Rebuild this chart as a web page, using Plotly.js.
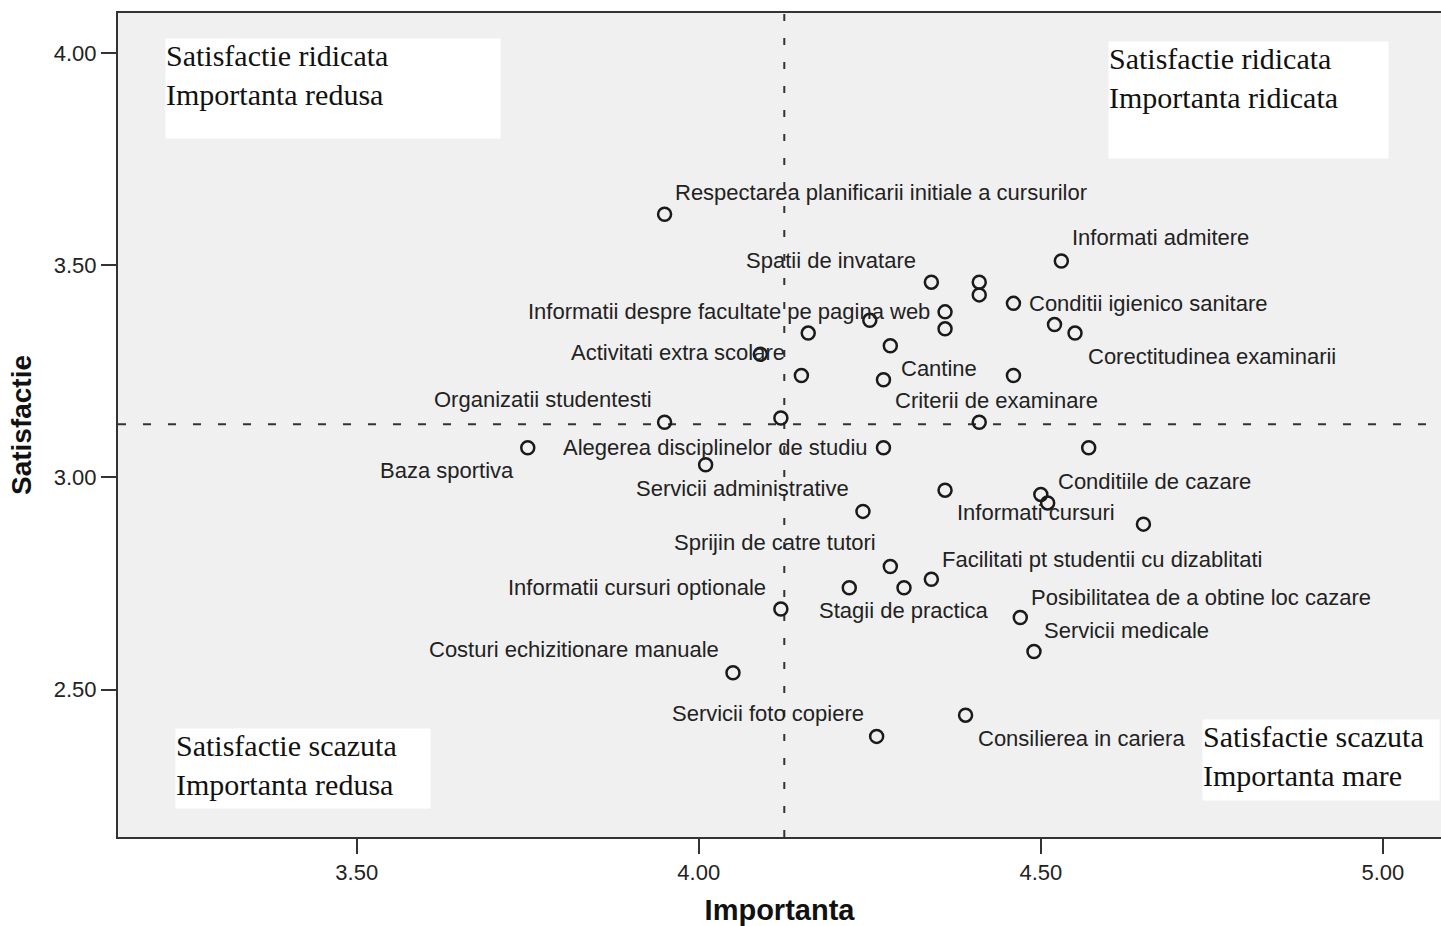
<!DOCTYPE html>
<html>
<head>
<meta charset="utf-8">
<script src="https://cdn.plot.ly/plotly-3.0.1.min.js"></script>
<style>
  html, body { margin: 0; padding: 0; background: #ffffff; }
  #chart { width: 1441px; height: 926px; }
</style>
</head>
<body>
<div id="chart"></div>
<script>
// ---- Data ----
const importance = [3.95, 4.53, 4.34, 4.41, 4.41, 4.36, 4.46, 4.25, 4.36, 4.16,
                    4.28, 4.09, 4.15, 4.27, 4.46, 4.52, 4.55, 3.95, 4.12, 4.41,
                    3.75, 4.27, 4.57, 4.01, 4.36, 4.50, 4.51, 4.65, 4.24, 4.28,
                    4.34, 4.22, 4.30, 4.12, 4.47, 4.49, 4.05, 4.39, 4.26];
const satisfaction = [3.62, 3.51, 3.46, 3.46, 3.43, 3.39, 3.41, 3.37, 3.35, 3.34,
                      3.31, 3.29, 3.24, 3.23, 3.24, 3.36, 3.34, 3.13, 3.14, 3.13,
                      3.07, 3.07, 3.07, 3.03, 2.97, 2.96, 2.94, 2.89, 2.92, 2.79,
                      2.76, 2.74, 2.74, 2.69, 2.67, 2.59, 2.54, 2.44, 2.39];
const pointLabels = [
  "Respectarea planificarii initiale a cursurilor", "Informati admitere", "Spatii de invatare", "", "",
  "Informatii despre facultate pe pagina web", "Conditii igienico sanitare", "", "", "",
  "Cantine", "Activitati extra scolare", "", "Criterii de examinare", "",
  "", "Corectitudinea examinarii", "Organizatii studentesti", "", "",
  "Baza sportiva", "Alegerea disciplinelor de studiu", "", "", "Informati cursuri",
  "", "Conditiile de cazare", "", "Servicii administrative", "Sprijin de catre tutori",
  "Facilitati pt studentii cu dizablitati", "", "Stagii de practica", "Informatii cursuri optionale",
  "Posibilitatea de a obtine loc cazare", "Servicii medicale", "Costuri echizitionare manuale",
  "Consilierea in cariera", "Servicii foto copiere"
];
const refImportance = 4.125;
const refSatisfaction = 3.125;
const xTicks = [3.5, 4.0, 4.5, 5.0];
const yTicks = [2.5, 3.0, 3.5, 4.0];
const quadrantTexts = [
  "Satisfactie ridicata<br>Importanta redusa",
  "Satisfactie ridicata<br>Importanta ridicata",
  "Satisfactie scazuta<br>Importanta redusa",
  "Satisfactie scazuta<br>Importanta mare"
];

// ---- Styling / placement (layout only) ----
// label placement per point index: [xanchor, xshift px, yshift px]
const labelPlacement = {
  0: ["left", 9, 22], 1: ["left", 10, 23], 2: ["right", -14, 22],
  5: ["right", -14, 0], 6: ["left", 15, 0], 10: ["left", 10, -23],
  11: ["right", 26, 2], 13: ["left", 11, -21], 16: ["left", 12, -23],
  17: ["right", -12, 23], 20: ["right", -13, -23], 21: ["right", -14, 0],
  24: ["left", 11, -22], 26: ["left", 9, 21], 28: ["right", -13, 23],
  29: ["right", -13, 24], 30: ["left", 10, 20], 32: ["center", 0, -23],
  33: ["right", -14, 22], 34: ["left", 10, 20], 35: ["left", 9, 21],
  36: ["right", -13, 23], 37: ["left", 11, -23], 38: ["right", -12, 23]
};
// quadrant boxes: [paper x, paper y(top), width, height]
const quadrantBoxes = [
  [0.0355, 0.9697, 334, 99],
  [0.7483, 0.9660, 279, 116],
  [0.0431, 0.1323, 254, 79],
  [0.8193, 0.1432, 236, 80]
];

const sans = "Liberation Sans, Arial, sans-serif";
const serif = "Liberation Serif, Times New Roman, serif";

const annotations = [];
pointLabels.forEach((t, i) => {
  if (!t) return;
  const p = labelPlacement[i] || ["left", 10, 20];
  annotations.push({
    x: importance[i], y: satisfaction[i], xref: "x", yref: "y",
    text: t, showarrow: false, xanchor: p[0], yanchor: "middle",
    xshift: p[1], yshift: p[2], borderpad: 0,
    font: { family: sans, size: 22, color: "#222222" }
  });
});
quadrantTexts.forEach((t, i) => {
  const b = quadrantBoxes[i];
  annotations.push({
    x: b[0], y: b[1], xref: "paper", yref: "paper",
    text: t, showarrow: false, xanchor: "left", yanchor: "top",
    width: b[2], height: b[3], align: "left", valign: "top",
    bgcolor: "#ffffff", borderpad: 0,
    font: { family: serif, size: 30, color: "#111111" }
  });
});

const trace = {
  type: "scatter", mode: "markers",
  x: importance, y: satisfaction,
  marker: { symbol: "circle-open", size: 13, color: "#1a1a1a", line: { width: 2.5, color: "#1a1a1a" } },
  hoverinfo: "skip", cliponaxis: false
};

const layout = {
  width: 1441, height: 926,
  margin: { l: 118, r: 0, t: 13, b: 89 },
  paper_bgcolor: "#ffffff",
  plot_bgcolor: "#f0f0f0",
  showlegend: false,
  xaxis: {
    range: [3.151, 5.085], tickvals: xTicks, tickformat: ".2f",
    ticks: "outside", ticklen: 15, tickwidth: 2, tickcolor: "#333333",
    showline: true, linecolor: "#333333", linewidth: 2, mirror: true,
    showgrid: false, zeroline: false,
    tickfont: { family: sans, size: 22, color: "#222222" },
    title: { text: "<b>Importanta</b>", standoff: 16, font: { family: sans, size: 29, color: "#111111" } }
  },
  yaxis: {
    range: [2.153, 4.094], tickvals: yTicks, tickformat: ".2f",
    ticks: "outside", ticklen: 15, tickwidth: 2, tickcolor: "#333333",
    showline: true, linecolor: "#333333", linewidth: 2,
    showgrid: false, zeroline: false,
    tickfont: { family: sans, size: 22, color: "#222222" },
    title: { text: "<b>Satisfactie</b>", standoff: 14, font: { family: sans, size: 28, color: "#111111" } }
  },
  shapes: [
    { type: "line", xref: "x", yref: "paper", x0: refImportance, x1: refImportance, y0: 0, y1: 1,
      line: { color: "#333333", width: 2, dash: "7px,17px" }, layer: "below" },
    { type: "line", xref: "paper", yref: "y", x0: 0, x1: 1, y0: refSatisfaction, y1: refSatisfaction,
      line: { color: "#333333", width: 2, dash: "8px,17px" }, layer: "below" }
  ],
  annotations: annotations
};

Plotly.newPlot("chart", [trace], layout, { displayModeBar: false, staticPlot: true });
</script>
</body>
</html>
